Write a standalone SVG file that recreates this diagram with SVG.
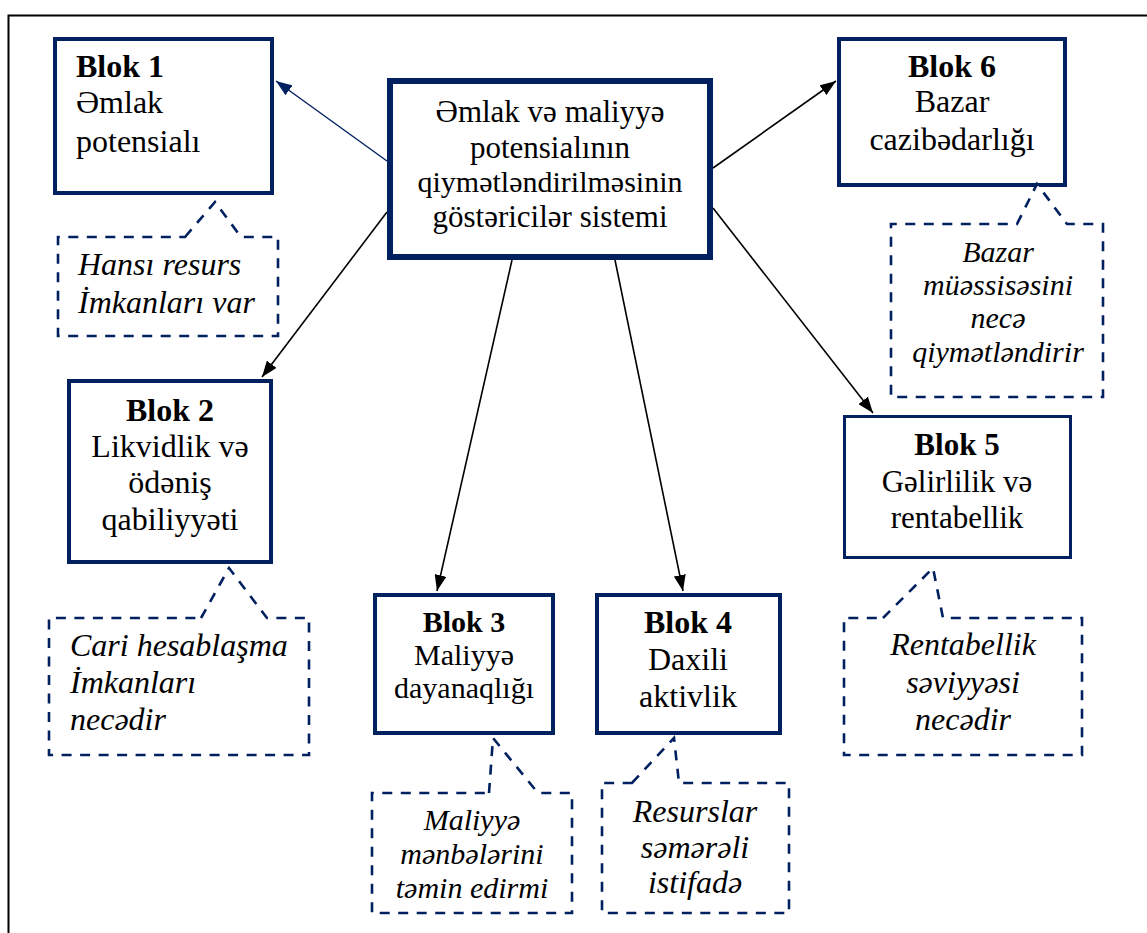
<svg xmlns="http://www.w3.org/2000/svg" width="1147" height="933" viewBox="0 0 1147 933">
<defs>
<style>
.box{fill:#fff;stroke:#002060;stroke-width:4}
.thin{stroke-width:3}
.center{stroke-width:6}
.call{fill:#fff;stroke:#002060;stroke-width:2.6;stroke-dasharray:10 8.5}
.t{font-family:"Liberation Serif","Times New Roman","DejaVu Serif",serif;font-size:32px;fill:#000}
.b{font-weight:bold}
.i{font-style:italic}
.m{text-anchor:middle}
.s30{font-size:30px}
.s31{font-size:31px}
.con{stroke:#000;stroke-width:1.6;fill:none}
.conb{stroke:#002060;stroke-width:1.4;fill:none}
</style>
<marker id="ah" viewBox="0 0 16 12" refX="16" refY="6" markerWidth="16" markerHeight="12" markerUnits="userSpaceOnUse" orient="auto">
<path d="M0,0 L16,6 L0,12 Z" fill="#000"/>
</marker>
<marker id="ahb" viewBox="0 0 16 12" refX="16" refY="6" markerWidth="16" markerHeight="12" markerUnits="userSpaceOnUse" orient="auto">
<path d="M0,0 L16,6 L0,12 Z" fill="#002060"/>
</marker>
</defs>
<rect width="1147" height="933" fill="#fff"/>
<rect x="8.5" y="15.5" width="1150" height="930" fill="none" stroke="#000" stroke-width="2"/>

<g id="connectors">
<line class="conb" x1="387" y1="161" x2="276" y2="81" marker-end="url(#ahb)"/>
<line class="con" x1="387" y1="212" x2="262" y2="377" marker-end="url(#ah)"/>
<line class="con" x1="512" y1="260" x2="437" y2="591" marker-end="url(#ah)"/>
<line class="con" x1="615" y1="260" x2="683" y2="591" marker-end="url(#ah)"/>
<line class="con" x1="713" y1="168" x2="836" y2="81" marker-end="url(#ah)"/>
<line class="con" x1="713" y1="208" x2="873" y2="413" marker-end="url(#ah)"/>
</g>

<g id="center">
<rect class="box center" x="390" y="81" width="320" height="176"/>
<text class="t m s31" x="550" y="122">Əmlak və maliyyə</text>
<text class="t m s31" x="550" y="158">potensialının</text>
<text class="t m s30" x="550" y="192">qiymətləndirilməsinin</text>
<text class="t m s31" x="550" y="227">göstəricilər sistemi</text>
</g>

<g id="blok1">
<rect class="box" x="55" y="39" width="217" height="154"/>
<text class="t b" x="76" y="77">Blok 1</text>
<text class="t" x="76" y="113">Əmlak</text>
<text class="t" x="76" y="152">potensialı</text>
</g>

<g id="note1">
<path class="call" d="M185,237 L215,202 L241,237 L278,237 L278,336 L58,336 L58,237 Z"/>
<text class="t i" x="78" y="275">Hansı resurs</text>
<text class="t i" x="78" y="313">İmkanları var</text>
</g>

<g id="blok2">
<rect class="box" x="69" y="381" width="202" height="181"/>
<text class="t b m" x="170" y="421">Blok 2</text>
<text class="t m" x="170" y="457">Likvidlik və</text>
<text class="t m" x="170" y="493">ödəniş</text>
<text class="t m" x="170" y="530">qabiliyyəti</text>
</g>

<g id="note2">
<path class="call" d="M201,618 L229,568 L267,618 L309,618 L309,755 L49,755 L49,618 Z"/>
<text class="t i" x="70" y="656">Cari hesablaşma</text>
<text class="t i" x="70" y="693">İmkanları</text>
<text class="t i" x="70" y="730">necədir</text>
</g>

<g id="blok3">
<rect class="box" x="375" y="595" width="178" height="138"/>
<text class="t b m s30" x="464" y="632">Blok 3</text>
<text class="t m s30" x="464" y="665">Maliyyə</text>
<text class="t m s30" x="464" y="698">dayanaqlığı</text>
</g>

<g id="note3">
<path class="call" d="M489,793 L493,738 L538,793 L572,793 L572,913 L372,913 L372,793 Z"/>
<text class="t i m s30" x="472" y="830">Maliyyə</text>
<text class="t i m s30" x="472" y="864">mənbələrini</text>
<text class="t i m s30" x="472" y="898">təmin edirmi</text>
</g>

<g id="blok4">
<rect class="box" x="597" y="595" width="183" height="138"/>
<text class="t b m" x="688" y="633">Blok 4</text>
<text class="t m" x="688" y="670">Daxili</text>
<text class="t m" x="688" y="707">aktivlik</text>
</g>

<g id="note4">
<path class="call" d="M632,783 L674,738 L679,783 L789,783 L789,913 L602,913 L602,783 Z"/>
<text class="t i m" x="695" y="822">Resurslar</text>
<text class="t i m" x="695" y="858">səmərəli</text>
<text class="t i m" x="695" y="893">istifadə</text>
</g>

<g id="blok5">
<rect class="box thin" x="844.5" y="416.5" width="226" height="141"/>
<text class="t b m s31" x="957" y="455">Blok 5</text>
<text class="t m s31" x="957" y="492">Gəlirlilik və</text>
<text class="t m s31" x="957" y="528">rentabellik</text>
</g>

<g id="note5">
<path class="call" d="M883,618 L933,568 L943,618 L1082,618 L1082,755 L844,755 L844,618 Z"/>
<text class="t i m" x="963" y="655">Rentabellik</text>
<text class="t i m" x="963" y="693">səviyyəsi</text>
<text class="t i m" x="963" y="730">necədir</text>
</g>

<g id="blok6">
<rect class="box" x="839" y="39" width="226" height="146"/>
<text class="t b m" x="952" y="77">Blok 6</text>
<text class="t m" x="952" y="112">Bazar</text>
<text class="t m" x="952" y="150">cazibədarlığı</text>
</g>

<g id="note6">
<path class="call" d="M1017,224 L1037,184 L1067,224 L1103,224 L1103,397 L891,397 L891,224 Z"/>
<text class="t i m s30" x="998" y="262">Bazar</text>
<text class="t i m s30" x="998" y="295">müəssisəsini</text>
<text class="t i m s30" x="998" y="328">necə</text>
<text class="t i m s30" x="998" y="362">qiymətləndirir</text>
</g>
</svg>
